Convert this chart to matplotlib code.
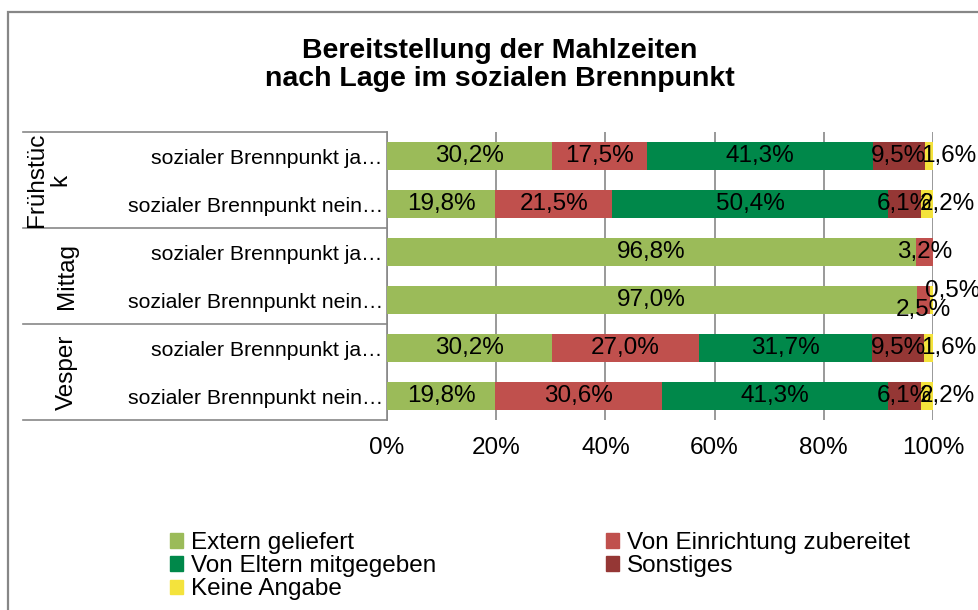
import numpy as np
import matplotlib.pyplot as plt
import matplotlib.transforms as mtransforms
from matplotlib.patches import Rectangle, Patch

plt.rcParams['font.family'] = ['Liberation Sans', 'DejaVu Sans']

# data (percent), rows top to bottom
row_labels = ["sozialer Brennpunkt ja…", "sozialer Brennpunkt nein…"] * 3
groups = ["Frühstüc\nk", "Mittag", "Vesper"]
series = ["Extern geliefert", "Von Einrichtung zubereitet", "Von Eltern mitgegeben",
          "Sonstiges", "Keine Angabe"]
extern = [30.2, 19.8, 96.8, 97.0, 30.2, 19.8]
einrichtung = [17.5, 21.5, 3.2, 2.5, 27.0, 30.6]
eltern = [41.3, 50.4, 0.0, 0.0, 31.7, 41.3]
sonstiges = [9.5, 6.1, 0.0, 0.0, 9.5, 6.1]
keine = [1.6, 2.2, 0.0, 0.5, 1.6, 2.2]
values = [extern, einrichtung, eltern, sonstiges, keine]
colors = ["#9BBB59", "#C0504D", "#00884A", "#953735", "#F4E33C"]

fig = plt.figure(figsize=(9.79, 6.10), dpi=100)
grey = "#878787"
fs = 17.5      # data labels, ticks, legend
fs_row = 15.3  # row labels

# outer chart frame
fig.patches.append(Rectangle((8 / 979, -0.1), 1.2, 1 - 12 / 610 + 0.1, transform=fig.transFigure,
                             fill=False, edgecolor=grey, linewidth=1.6))

ax = fig.add_axes([387 / 979, 1 - 420 / 610, 546 / 979, 288 / 610])
y = np.arange(len(row_labels))
left = np.zeros(len(row_labels))
for i, (name, vals, c) in enumerate(zip(series, values, colors)):
    vals = np.array(vals)
    ax.barh(y, vals, left=left, height=0.58, color=c, label=name, zorder=3)
    for j, v in enumerate(vals):
        if v <= 0:
            continue
        dx, dy = 0, 0
        if i == 4:
            dx = 20
        if j == 3 and i == 1:
            dy = -10
        if j == 3 and i == 4:
            dx, dy = 21, 9
        ax.annotate(f"{v:.1f}".replace(".", ",") + "%", (left[j] + v / 2, j),
                    xytext=(dx, dy), textcoords="offset pixels",
                    ha="center", va="center", fontsize=fs, zorder=5)
    left += vals

ax.set_xlim(0, 100)
ax.set_ylim(len(row_labels) - 0.5, -0.5)
ax.set_xticks(np.arange(0, 101, 20))
ax.set_xticklabels([f"{t}%" for t in range(0, 101, 20)], fontsize=fs)
ax.set_yticks(y)
ax.set_yticklabels(row_labels, fontsize=fs_row)
ax.tick_params(axis="both", length=0)
ax.tick_params(axis="x", pad=12)
ax.tick_params(axis="y", pad=3)
ax.grid(axis="x", color=grey, linewidth=1.2, zorder=0)
for s in ["top", "right", "bottom"]:
    ax.spines[s].set_visible(False)
ax.spines["left"].set_color(grey)
ax.spines["left"].set_linewidth(1.2)

# category group separators and labels
trans = mtransforms.blended_transform_factory(fig.transFigure, ax.transData)
for yy in [-0.5, 1.5, 3.5, 5.5]:
    ax.plot([23 / 979, 387 / 979], [yy, yy], transform=trans, color=grey,
            linewidth=1.2, clip_on=False)
group_x = [49, 67, 67]
for k, g in enumerate(groups):
    ax.text(group_x[k] / 979, 2 * k + 0.5, g, transform=trans, rotation=90,
            ha="center", va="center", fontsize=fs, linespacing=1.1)

fig.text(500 / 979, 1 - 65 / 610, "Bereitstellung der Mahlzeiten\nnach Lage im sozialen Brennpunkt",
         ha="center", va="center", fontsize=20.5, fontweight="bold", linespacing=1.1)

handles = [Patch(color=c) for c in colors]
order = [0, 2, 4, 1, 3]
fig.legend([handles[k] for k in order], [series[k] for k in order], ncol=2,
           loc="upper left", bbox_to_anchor=(170 / 979, 1 - 532 / 610), frameon=False,
           fontsize=fs, handlelength=0.55, handleheight=0.55, handletextpad=0.3,
           columnspacing=7.0, labelspacing=0.05, borderpad=0, borderaxespad=0)

fig.savefig("out.png", dpi=100)
